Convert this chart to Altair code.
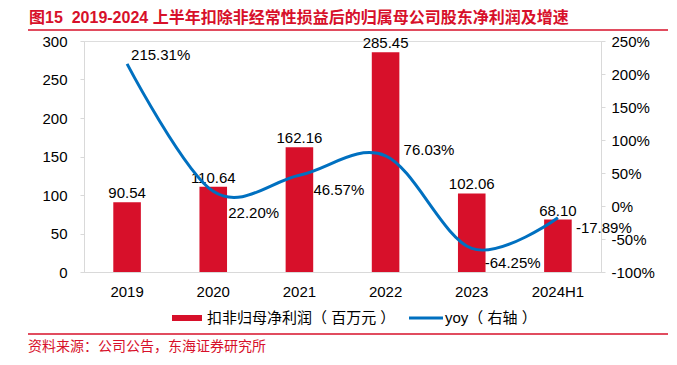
import altair as alt
import pandas as pd

years = ["2019", "2020", "2021", "2022", "2023", "2024H1"]
profit = [90.54, 110.64, 162.16, 285.45, 102.06, 68.10]
yoy = [215.31, 22.20, 46.57, 76.03, -64.25, -17.89]
profit_labels = ["90.54", "110.64", "162.16", "285.45", "102.06", "68.10"]
yoy_labels = ["215.31%", "22.20%", "46.57%", "76.03%", "-64.25%", "-17.89%"]
left_ticks = [0, 50, 100, 150, 200, 250, 300]
right_ticks = [-100, -50, 0, 50, 100, 150, 200, 250]

title_text = "图15\u00a0\u00a02019-2024 上半年扣除非经常性损益后的归属母公司股东净利润及增速"
legend_bar = "扣非归母净利润（ 百万元 ）"
legend_line = "yoy（ 右轴 ）"
source_text = "资料来源：公司公告，东海证券研究所"

df = pd.DataFrame({"year": years, "profit": profit, "yoy": yoy,
                   "plabel": profit_labels, "ylabel": yoy_labels})

RED = "#D7102A"
BLUE = "#0070C0"
GREY = "#D9D9D9"
FONT = "Liberation Sans, Noto Sans CJK SC, sans-serif"
W, H = 517, 231

x = alt.X("year:N", sort=years,
          scale=alt.Scale(domain=years, paddingInner=0.68, paddingOuter=0.34),
          axis=alt.Axis(title=None, labelAngle=0, ticks=False, domainColor=GREY,
                        labelFontSize=15, labelColor="#000", labelPadding=12,
                        labelFont=FONT))
yl = alt.Y("profit:Q", scale=alt.Scale(domain=[0, 300], nice=False),
           axis=alt.Axis(title=None, values=left_ticks, grid=False, domainColor=GREY,
                         tickColor=GREY, tickSize=4, labelPadding=13, labelFontSize=15,
                         labelColor="#000", labelFont=FONT))
yr = alt.Y("yoy:Q", scale=alt.Scale(domain=[-100, 250], nice=False),
           axis=alt.Axis(title=None, orient="right", values=right_ticks, grid=False,
                         labelExpr="datum.value + '%'", domainColor=GREY,
                         tickColor=GREY, tickSize=4, labelPadding=6, labelFontSize=15,
                         labelColor="#000", labelFont=FONT))

base = alt.Chart(df)
bars = base.mark_bar(color=RED).encode(x=x, y=yl)
bar_text = base.mark_text(font=FONT, fontSize=15, dy=-4, baseline="alphabetic",
                          color="#000").encode(x=x, y=yl, text="plabel:N")

line = base.mark_line(color=BLUE, strokeWidth=3, interpolate="cardinal").encode(x=x, y=yr)

offsets = {"2019": (4, -9), "2020": (15, 22), "2021": (14, 15),
           "2022": (18, -6), "2023": (13, 15), "2024H1": (18, 10)}
yoy_texts = []
for yname in years:
    dx, dy = offsets[yname]
    yoy_texts.append(
        base.transform_filter(alt.datum.year == yname)
        .mark_text(font=FONT, fontSize=15, align="left", baseline="middle",
                   dx=dx, dy=dy, color="#000")
        .encode(x=x, y=yr, text="ylabel:N"))

one = alt.Data(values=[{"k": 1}])
leg_rect = alt.Chart(one).mark_rect(color=RED).encode(
    x=alt.value(88), x2=alt.value(118), y=alt.value(274), y2=alt.value(280))
leg_t1 = alt.Chart(one).mark_text(font=FONT, fontSize=15, align="left",
                                  baseline="middle", color="#000").encode(
    x=alt.value(123), y=alt.value(277), text=alt.value(legend_bar))
leg_line = alt.Chart(one).mark_rule(color=BLUE, strokeWidth=3).encode(
    x=alt.value(325), x2=alt.value(359), y=alt.value(277))
leg_t2 = alt.Chart(one).mark_text(font=FONT, fontSize=15, align="left",
                                  baseline="middle", color="#000").encode(
    x=alt.value(361), y=alt.value(277), text=alt.value(legend_line))
title_t = alt.Chart(one).mark_text(font=FONT, fontSize=16, fontWeight="bold",
                                   align="left", baseline="middle", color=RED).encode(
    x=alt.value(-55), y=alt.value(-23), text=alt.value(title_text))
title_rule = alt.Chart(one).mark_rule(color=RED, strokeWidth=1.5).encode(
    x=alt.value(-56), x2=alt.value(584), y=alt.value(-11))
bottom_rule = alt.Chart(one).mark_rule(color=RED, strokeWidth=1.5).encode(
    x=alt.value(-56), x2=alt.value(584), y=alt.value(293))
source_t = alt.Chart(one).mark_text(font=FONT, fontSize=14, align="left",
                                    baseline="middle", color=RED).encode(
    x=alt.value(-56), y=alt.value(306), text=alt.value(source_text))

left = alt.layer(bars, bar_text)
right = alt.layer(line, *yoy_texts)
overlay = alt.layer(leg_rect, leg_t1, leg_line, leg_t2, title_t, title_rule,
                    bottom_rule, source_t)

chart = alt.layer(left, right, overlay).resolve_scale(y="independent").properties(
    width=W, height=H,
    padding={"left": 76, "top": 33, "right": 68, "bottom": 84},
    autosize=alt.AutoSizeParams(type="none"),
).configure_view(stroke=None).configure(background="white")

chart.save("out.html", embed_options={"renderer": "svg", "actions": False})
